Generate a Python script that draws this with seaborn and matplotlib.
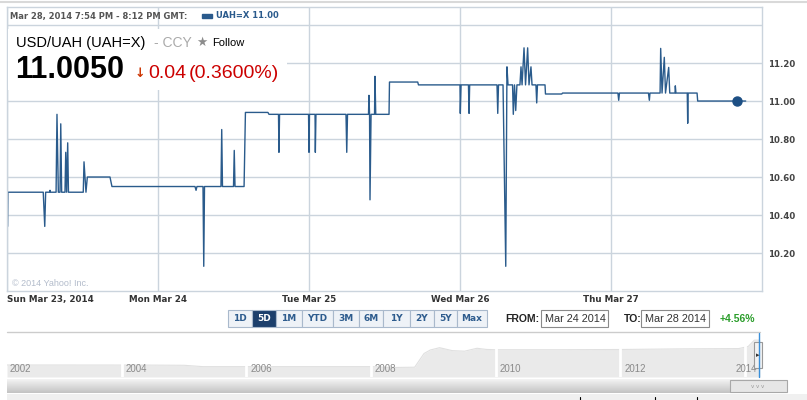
import numpy as np
import pandas as pd
import matplotlib
matplotlib.use('Agg')
import matplotlib.pyplot as plt
import matplotlib.transforms as mtransforms
import seaborn as sns
from matplotlib.patches import Rectangle

sns.set_style("white")
plt.rcParams['font.family'] = ['DejaVu Sans']

# intraday USD/UAH quotes, x = days since Sun Mar 23 (chart time), one list per day
t_day0 = [0.004, 0.006, 0.240, 0.250, 0.256, 0.281, 0.285, 0.288, 0.325, 0.331, 0.340, 0.351, 0.356,
          0.362, 0.384, 0.389, 0.395, 0.402, 0.407, 0.505, 0.510, 0.523, 0.532, 0.682, 0.695]
v_day0 = [10.34, 10.52, 10.52, 10.34, 10.52, 10.52, 10.53, 10.52, 10.52, 10.93, 10.52, 10.52, 10.88,
          10.52, 10.52, 10.73, 10.52, 10.78, 10.52, 10.52, 10.68, 10.52, 10.60, 10.60, 10.55]
t_day1 = [1.245, 1.252, 1.258, 1.298, 1.303, 1.308, 1.417, 1.422, 1.427, 1.500, 1.505, 1.510, 1.570,
          1.579, 1.728, 1.735, 1.798, 1.801, 1.805, 1.997]
v_day1 = [10.55, 10.53, 10.55, 10.55, 10.13, 10.55, 10.55, 10.85, 10.55, 10.55, 10.74, 10.55, 10.55,
          10.94, 10.94, 10.93, 10.93, 10.73, 10.93, 10.93]
t_day2 = [2.000, 2.003, 2.040, 2.042, 2.046, 2.245, 2.250, 2.255, 2.394, 2.397, 2.401, 2.404, 2.411,
          2.434, 2.437, 2.442, 2.530, 2.533, 2.720, 2.725]
v_day2 = [10.73, 10.93, 10.93, 10.73, 10.93, 10.93, 10.73, 10.93, 10.93, 11.03, 10.93, 10.48, 10.93,
          10.93, 11.13, 10.93, 10.93, 11.10, 11.10, 11.085]
t_day3 = [3.000, 3.002, 3.007, 3.056, 3.060, 3.064, 3.245, 3.250, 3.255, 3.285, 3.303, 3.311, 3.318,
          3.348, 3.353, 3.361, 3.369, 3.377, 3.397, 3.404, 3.411, 3.424, 3.434, 3.448, 3.457, 3.470,
          3.477, 3.503, 3.508, 3.513, 3.563, 3.566, 3.674, 3.679]
v_day3 = [11.085, 10.935, 11.085, 11.085, 10.935, 11.085, 11.085, 10.935, 11.085, 11.085, 10.13, 11.18,
          11.085, 11.085, 10.93, 11.085, 10.95, 11.085, 11.085, 11.18, 11.085, 11.28, 11.085, 11.28,
          11.085, 11.18, 11.085, 11.085, 10.99, 11.085, 11.085, 11.037, 11.037, 11.042]
t_day4 = [4.046, 4.051, 4.056, 4.248, 4.254, 4.258, 4.325, 4.329, 4.338, 4.353, 4.361, 4.382, 4.389,
          4.424, 4.426, 4.430, 4.505, 4.508, 4.511, 4.570, 4.574, 4.892]
v_day4 = [11.042, 11.004, 11.042, 11.042, 11.004, 11.042, 11.042, 11.277, 11.042, 11.23, 11.042, 11.177,
          11.042, 11.042, 11.08, 11.042, 11.042, 10.883, 11.042, 11.042, 11.00, 11.00]
last_t, last_rate = 4.836, 11.00

day_pos = [0, 1, 2, 3, 4]
day_labels = ['Sun Mar 23, 2014', 'Mon Mar 24', 'Tue Mar 25', 'Wed Mar 26', 'Thu Mar 27']
y_ticks = [10.2, 10.4, 10.6, 10.8, 11.0, 11.2, 11.4]
y_labels = ['10.20', '10.40', '10.60', '10.80', '11.00', '11.20', '']

# long-range navigator (yearly history)
nav_year = [2002.16, 2003.0, 2004.0, 2004.5, 2005.0, 2005.3, 2006.0, 2007.0, 2008.0, 2008.35, 2008.7,
            2008.85, 2008.95, 2009.1, 2009.3, 2009.5, 2009.7, 2009.85, 2010.0, 2011.0, 2012.0, 2013.0,
            2013.9, 2014.05, 2014.15, 2014.24]
nav_rate = [5.33, 5.33, 5.32, 5.31, 5.28, 5.05, 5.05, 5.05, 5.05, 4.90, 4.95, 7.30, 7.90, 8.30, 7.80,
            7.70, 8.20, 8.00, 7.95, 7.95, 7.99, 8.10, 8.15, 8.50, 9.60, 9.60]
nav_years = [2002, 2004, 2006, 2008, 2010, 2012, 2014]

ranges = ['1D', '5D', '1M', 'YTD', '3M', '6M', '1Y', '2Y', '5Y', 'Max']
selected = '5D'

W, H = 807, 400
LINE = '#2a5b8c'
GRID = '#cbd4dd'
ARIAL = ['Liberation Sans', 'DejaVu Sans']

fig = plt.figure(figsize=(W / 100, H / 100), dpi=100)


def box(x0, y0, x1, y1):
    return [x0 / W, 1 - y1 / H, (x1 - x0) / W, (y1 - y0) / H]


# main chart
ax = fig.add_axes(box(7, 7, 762, 291))
df = pd.DataFrame({'t': t_day0 + t_day1 + t_day2 + t_day3 + t_day4,
                   'rate': v_day0 + v_day1 + v_day2 + v_day3 + v_day4})
sns.lineplot(data=df, x='t', y='rate', ax=ax, color=LINE, linewidth=1.0, sort=False, estimator=None)
ax.plot([last_t], [last_rate], 'o', ms=6.5, color='#1d4f84', zorder=5)
ax.set_xlim(0, 5)
ax.set_ylim(10.0, 11.495)
ax.set_xlabel('')
ax.set_ylabel('')
ax.set_yticks(y_ticks)
ax.set_yticklabels(y_labels)
ax.yaxis.tick_right()
ax.tick_params(axis='y', length=0, pad=4, labelsize=6.2, labelcolor='#444444')
ax.set_xticks(day_pos)
ax.set_xticklabels(day_labels)
ax.tick_params(axis='x', length=0, pad=3, labelsize=6.3, labelcolor='#333333')
for lab in ax.get_yticklabels() + ax.get_xticklabels():
    lab.set_fontweight('bold')
ax.get_xticklabels()[0].set_horizontalalignment('left')
ax.grid(True, color=GRID, lw=1)
for s in ax.spines.values():
    s.set_color(GRID)
    s.set_linewidth(1)

# navigator
nav = fig.add_axes(box(7, 333, 760, 377))
nav.fill_between(nav_year, nav_rate, 3.27, color='#eaeaea', lw=0)
sns.lineplot(x=nav_year, y=nav_rate, ax=nav, color='#e0e0e0', linewidth=0.8)
nav.set_xlim(2002.16, 2014.24)
nav.set_ylim(3.27, 10.82)
nav.axis('off')
trans = mtransforms.blended_transform_factory(nav.transData, nav.transAxes)
for yr in nav_years:
    if yr > 2002:
        nav.axvline(yr, color='white', lw=2)
    xpos = max(yr + 0.06, 2002.2) if yr < 2014 else 2014.2
    nav.text(xpos, 0.18, str(yr), transform=trans, fontsize=7, color='#8a8a8a',
             ha='right' if yr == 2014 else 'left', va='center', family=ARIAL)

# overlay for page furniture
ov = fig.add_axes([0, 0, 1, 1])
ov.set_xlim(0, W)
ov.set_ylim(H, 0)
ov.axis('off')
ov.set_zorder(10)
ov.patch.set_alpha(0)

ov.plot([0, W], [1.5, 1.5], color='#d9d9d9', lw=1.5)
ov.text(10, 16, 'Mar 28, 2014 7:54 PM - 8:12 PM GMT:', fontsize=6, fontweight='bold',
        color='#555555', va='center')
ov.add_patch(Rectangle((202, 13.5), 10, 4, color='#2a5a8c'))
ov.text(216, 16, 'UAH=X 11.00', fontsize=6, fontweight='bold', color='#2a5a8c', va='center')

ov.add_patch(Rectangle((8, 29), 279, 61, facecolor='white', edgecolor='none'))
ov.text(16, 47, 'USD/UAH (UAH=X)', fontsize=10.5, color='black', family=ARIAL, va='baseline')
ov.text(154, 47, '- CCY', fontsize=10, color='#aaaaaa', family=ARIAL, va='baseline')
ov.text(196, 46, '\u2605', fontsize=9, color='#8c8c8c', va='baseline')
ov.text(212, 46, 'Follow', fontsize=8, color='black', family=ARIAL, va='baseline')
ov.text(15, 78, '11.0050', fontsize=22, fontweight='bold', color='black', family=ARIAL, va='baseline')
ov.text(135, 77, '\u2193', fontsize=9, fontweight='bold', color='#cc3300', va='baseline')
ov.text(148, 78, '0.04', fontsize=14, color='#cc0000', family=ARIAL, va='baseline')
ov.text(189, 78, '(0.3600%)', fontsize=14, color='#cc0000', family=ARIAL, va='baseline')
ov.text(12, 283, '\u00a9 2014 Yahoo! Inc.', fontsize=6.5, color='#b3bccb', family=ARIAL, va='center')

# range buttons
edges = [228, 252, 276, 302, 333, 359, 383, 410, 434, 457, 487]
for i, r in enumerate(ranges):
    sel = r == selected
    ov.add_patch(Rectangle((edges[i], 310), edges[i + 1] - edges[i], 17,
                           facecolor='#1c3f6c' if sel else '#eef2f7', edgecolor='#a9b9cc', lw=0.8))
    ov.text((edges[i] + edges[i + 1]) / 2, 318.8, r, fontsize=6.5, fontweight='bold',
            color='white' if sel else '#2e5c8e', ha='center', va='center')

ov.text(505, 318.5, 'FROM:', fontsize=7.5, fontweight='bold', color='#222222', family=ARIAL, va='center')
ov.add_patch(Rectangle((541, 310), 67, 17, facecolor='white', edgecolor='#8a8a8a', lw=0.8))
ov.text(545, 318.5, 'Mar 24 2014', fontsize=7.8, color='#333333', family=ARIAL, va='center')
ov.text(624, 318.5, 'TO:', fontsize=7.5, fontweight='bold', color='#222222', family=ARIAL, va='center')
ov.add_patch(Rectangle((641, 310), 68, 17, facecolor='white', edgecolor='#8a8a8a', lw=0.8))
ov.text(645, 318.5, 'Mar 28 2014', fontsize=7.8, color='#333333', family=ARIAL, va='center')
ov.text(720, 318.5, '+4.56%', fontsize=7.5, fontweight='bold', color='#2a9d2a', family=ARIAL, va='center')

# navigator frame, handle and scrollbar
ov.plot([7, 760], [332, 332], color='#cccccc', lw=1)
ov.plot([759, 759], [333, 377], color='#3a8fd9', lw=1)
ov.add_patch(Rectangle((754, 342), 8, 26, facecolor='#f2f2f2', edgecolor='#999999', lw=0.8))
ov.text(758, 355, '\u25b8', fontsize=5, color='#333333', ha='center', va='center')
grad = np.linspace(0, 1, 20).reshape(-1, 1)
ov.imshow(grad, extent=(7, 760, 393, 379), cmap=matplotlib.colors.LinearSegmentedColormap.from_list(
    'bar', ['#f3f3f3', '#c4c4c4']), aspect='auto', zorder=1)
ov.add_patch(Rectangle((730, 380), 57, 12, facecolor='#e6e6e6', edgecolor='#a8a8a8', lw=0.8, zorder=2))
ov.text(758, 386, 'v v v', fontsize=4, color='#999999', ha='center', va='center', zorder=3)
ov.add_patch(Rectangle((7, 394), 800, 6, facecolor='#f0f0f0', edgecolor='none'))
for xx in [580, 655, 697]:
    ov.plot([xx, xx], [397, 400], color='black', lw=0.8)
ov.set_xlim(0, W)
ov.set_ylim(H, 0)

fig.savefig('out.png', dpi=100)
